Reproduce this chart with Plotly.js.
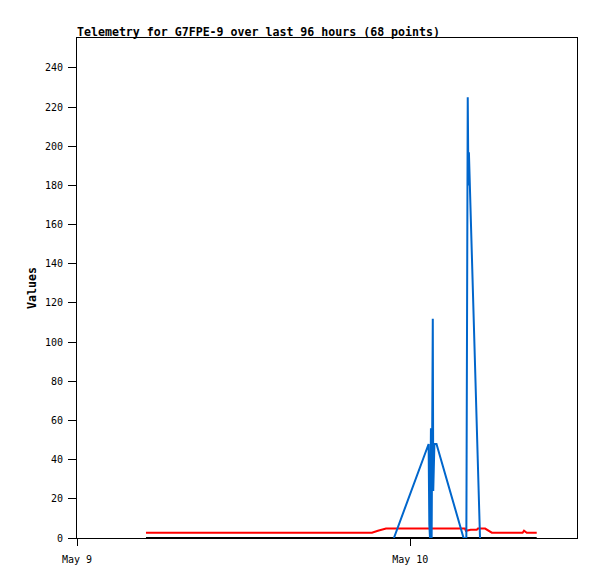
<!DOCTYPE html>
<html>
<head>
<meta charset="utf-8">
<script src="https://cdn.plot.ly/plotly-3.0.1.min.js"></script>
<style>html,body{margin:0;padding:0;background:#fff;}#chart{width:597px;height:579px;}</style>
</head>
<body>
<div id="chart"></div>
<script>
// Black series (zero baseline)
var blackTimes = ['2024-05-09 04:58', '2024-05-10 09:06'];
var blackValues = [0, 0];

// Red series
var redTimes = ['2024-05-09 04:58', '2024-05-09 21:14', '2024-05-09 21:40', '2024-05-09 22:15',
  '2024-05-10 03:56', '2024-05-10 04:00', '2024-05-10 04:21', '2024-05-10 04:47', '2024-05-10 04:52',
  '2024-05-10 05:23', '2024-05-10 05:52', '2024-05-10 08:05', '2024-05-10 08:11', '2024-05-10 08:23',
  '2024-05-10 09:06'];
var redValues = [2.7, 2.7, 3.7, 4.8, 4.8, 3.7, 4.2, 4.2, 4.8, 4.8, 2.7, 2.7, 3.7, 2.7, 2.7];

// Blue series
var blueTimes = ['2024-05-09 22:49', '2024-05-10 01:19', '2024-05-10 01:22', '2024-05-10 01:25',
  '2024-05-10 01:29', '2024-05-10 01:32', '2024-05-10 01:37', '2024-05-10 01:39', '2024-05-10 01:44',
  '2024-05-10 01:53', '2024-05-10 03:50', '2024-05-10 04:02', '2024-05-10 04:05', '2024-05-10 04:08',
  '2024-05-10 04:11', '2024-05-10 04:13', '2024-05-10 05:01'];
var blueValues = [0, 48, 7, 0, 56, 0, 112, 24, 48, 48, 0, 0, 112, 225, 180, 197, 0];

// Axis ticks
var xTickVals = ['2024-05-09 00:00', '2024-05-10 00:00'];
var xTickText = ['May 9', 'May 10'];
var yTickVals = [0, 20, 40, 60, 80, 100, 120, 140, 160, 180, 200, 220, 240];

var mono = '"DejaVu Sans Mono", "Liberation Mono", monospace';

var traces = [
  {x: blackTimes, y: blackValues, type: 'scatter', mode: 'lines', line: {color: '#000000', width: 2}, hoverinfo: 'skip'},
  {x: redTimes, y: redValues, type: 'scatter', mode: 'lines', line: {color: '#FF0000', width: 2}},
  {x: blueTimes, y: blueValues, type: 'scatter', mode: 'lines', line: {color: '#0066CC', width: 2}}
];

var layout = {
  width: 597, height: 579,
  margin: {l: 77, r: 20, t: 38, b: 41, pad: 0},
  paper_bgcolor: '#ffffff', plot_bgcolor: '#ffffff',
  showlegend: false,
  title: {
    text: '<b>Telemetry for G7FPE-9 over last 96 hours (68 points)</b>',
    font: {family: mono, size: 11.6, color: '#000000'},
    x: 0, xref: 'paper', xanchor: 'left',
    y: 1, yref: 'paper', yanchor: 'bottom',
    pad: {b: 2}
  },
  xaxis: {
    type: 'date',
    range: ['2024-05-09 00:00', '2024-05-10 12:00'],
    tickmode: 'array', tickvals: xTickVals, ticktext: xTickText,
    ticks: 'outside', ticklen: 7, tickcolor: '#000', tickwidth: 1,
    ticklabelstandoff: 5,
    showgrid: false, zeroline: false,
    showline: true, mirror: true, linecolor: '#000', linewidth: 1,
    tickfont: {family: mono, size: 10, color: '#000'},
    fixedrange: true
  },
  yaxis: {
    range: [0, 255.3],
    tickmode: 'array', tickvals: yTickVals,
    ticks: 'outside', ticklen: 8, tickcolor: '#000', tickwidth: 1,
    ticklabelstandoff: 3,
    showgrid: false, zeroline: false,
    showline: true, mirror: true, linecolor: '#000', linewidth: 1,
    tickfont: {family: mono, size: 10, color: '#000'},
    title: {text: '<b>Values</b>', font: {family: mono, size: 11.6, color: '#000'}, standoff: 5},
    fixedrange: true
  }
};

Plotly.newPlot('chart', traces, layout, {staticPlot: true, displayModeBar: false});
</script>
</body>
</html>
